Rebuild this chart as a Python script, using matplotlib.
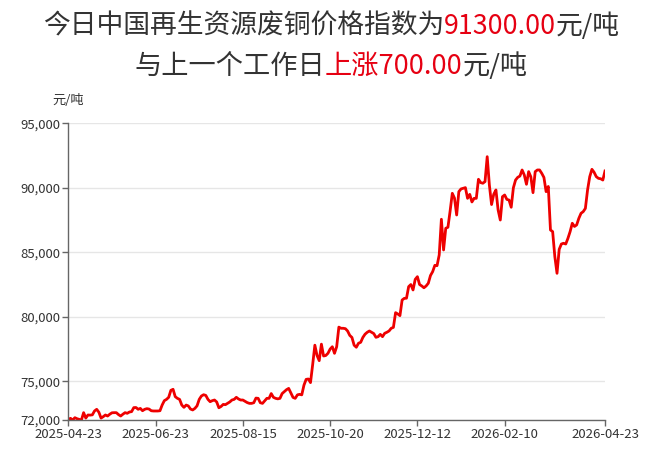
import matplotlib
matplotlib.use('Agg')
import matplotlib.pyplot as plt
from matplotlib.ticker import FuncFormatter

plt.rcParams['font.family'] = ['Noto Sans CJK SC', 'DejaVu Sans']

# 每日价格 (元/吨), 2025-04-23 .. 2026-04-23
prices = [
    72050, 72130, 72000, 72180, 72100, 72050, 72000, 72570, 72150, 72390,
    72380, 72400, 72700, 72830, 72600, 72150, 72260, 72390, 72310, 72450,
    72560, 72570, 72570, 72420, 72310, 72450, 72570, 72520, 72620, 72650,
    72960, 72970, 72830, 72900, 72720, 72830, 72880, 72850, 72720, 72700,
    72700, 72700, 72720, 73160, 73500, 73600, 73760, 74300, 74380, 73810,
    73680, 73600, 73160, 72980, 73160, 73090, 72850, 72780, 72900, 73100,
    73600, 73860, 73960, 73910, 73600, 73420, 73500, 73550, 73400, 72950,
    73050, 73210, 73190, 73290, 73400, 73550, 73600, 73760, 73630, 73550,
    73550, 73450, 73350, 73290, 73290, 73340, 73700, 73680, 73340, 73290,
    73480, 73680, 73680, 74050, 73760, 73680, 73640, 73680, 74050, 74200,
    74350, 74450, 74100, 73750, 73680, 73950, 73990, 73950, 74700, 75150,
    75180, 74900, 76300, 77800, 77000, 76600, 77880, 76960, 77000, 77170,
    77500, 77680, 77170, 77680, 79200, 79110, 79110, 79080, 78900, 78560,
    78400, 77800, 77640, 77950, 78020, 78400, 78650, 78800, 78900, 78800,
    78700, 78410, 78460, 78640, 78460, 78720, 78800, 78900, 79110, 79180,
    80320, 80220, 80090, 81300, 81430, 81440, 82340, 82500, 82080, 82900,
    83110, 82500, 82390, 82250, 82390, 82600, 83200, 83500, 83990, 83960,
    84790, 87560, 85180, 86860, 86940, 88200, 89570, 89200, 87890, 89700,
    89910, 89960, 90010, 89180, 89490, 88900, 89180, 89180, 90660, 90400,
    90350, 90480, 92410, 90200, 88700, 89500, 89830, 88280, 87500, 89310,
    89440, 89100, 89050, 88490, 90000, 90600, 90810, 90910, 91380, 90990,
    90270, 91250, 90850, 89620, 91250, 91380, 91380, 91120, 90800, 89700,
    90100, 86730, 86600, 84660, 83370, 85230, 85640, 85700, 85640, 86080,
    86600, 87250, 87000, 87120, 87630, 88020, 88150, 88400, 89830, 90860,
    91430, 91200, 90860, 90730, 90700, 90600, 91300,
]

tick_pos = [0, 40, 80, 120, 160, 200, 246]
tick_labels = ['2025-04-23', '2025-06-23', '2025-08-15', '2025-10-20',
               '2025-12-12', '2026-02-10', '2026-04-23']
y_ticks = [72000, 75000, 80000, 85000, 90000, 95000]

today_price = 91300.00
change = 700.00

red = '#e60012'
dark = '#333333'
gray = '#666666'

fig = plt.figure(figsize=(6.7, 4.51), dpi=100)
ax = fig.add_axes([0.102, 0.0687, 0.801, 0.658])

ax.plot(range(len(prices)), prices, color='#ee0000', lw=2, solid_joinstyle='round')
ax.set_xlim(0, len(prices) - 1)
ax.set_ylim(72000, 95000)

ax.set_xticks(tick_pos)
ax.set_xticklabels(tick_labels)
ax.set_yticks(y_ticks)
ax.yaxis.set_major_formatter(FuncFormatter(lambda v, p: f'{int(v):,}'))

ax.grid(axis='y', color='#e6e6e6', lw=1)
ax.set_axisbelow(True)
for s in ['top', 'right']:
    ax.spines[s].set_visible(False)
for s in ['left', 'bottom']:
    ax.spines[s].set_color(gray)
    ax.spines[s].set_linewidth(1)
ax.tick_params(axis='both', colors=gray, labelcolor=dark, labelsize=9.5,
               length=4, width=1, direction='out', pad=2)

fig.text(0.102, 1 - 101 / 451, '元/吨', ha='center', va='center',
         fontsize=9.5, color=dark)

# заголовок из кусков разного цвета
renderer = fig.canvas.get_renderer()


def colored_line(parts, y, size, cx):
    texts = []
    for s, c in parts:
        texts.append(fig.text(0, y, s, color=c, fontsize=size,
                              ha='left', va='center'))
    widths = [t.get_window_extent(renderer).width for t in texts]
    total = sum(widths)
    x = cx - total / 2
    for t, w in zip(texts, widths):
        t.set_x(x / fig.bbox.width)
        x += w


colored_line([('今日中国再生资源废铜价格指数为', dark),
              (f'{today_price:.2f}', red),
              ('元/吨', dark)], 1 - 26 / 451, 19.3, 331.5)
colored_line([('与上一个工作日', dark),
              (f'上涨{change:.2f}', red),
              ('元/吨', dark)], 1 - 66.5 / 451, 19.6, 331)

fig.savefig('out.png', dpi=100)
